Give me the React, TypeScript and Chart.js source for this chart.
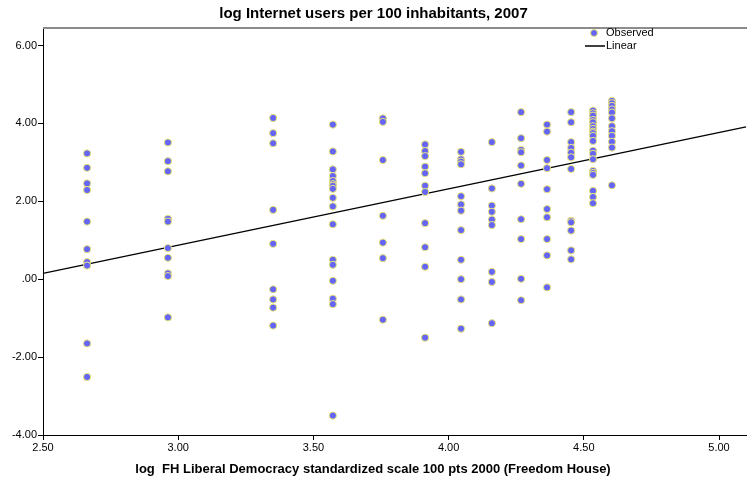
import React, { useEffect, useRef } from "react";
import { Chart, registerables } from "chart.js";

Chart.register(...registerables);

const TITLE = "log Internet users per 100 inhabitants, 2007";
const X_TITLE = "log  FH Liberal Democracy standardized scale 100 pts 2000 (Freedom House)";

const columnX = [2.663, 2.962, 3.351, 3.572, 3.757, 3.913, 4.046, 4.16, 4.268, 4.364, 4.453, 4.534, 4.604];

const col1 = [3.23, 2.86, 2.46, 2.29, 1.48, 0.77, 0.44, 0.35, -1.65, -2.51];
const col2 = [3.51, 3.03, 2.77, 1.55, 1.48, 0.8, 0.55, 0.15, 0.08, -0.98];
const col3 = [4.14, 3.75, 3.49, 1.78, 0.91, -0.26, -0.52, -0.73, -1.19];
const col4 = [3.97, 3.28, 2.82, 2.65, 2.52, 2.44, 2.4, 2.32, 2.09, 1.87, 1.41, 0.5, 0.37, -0.04, -0.5, -0.64, -3.5];
const col5 = [4.13, 4.04, 3.06, 1.63, 0.94, 0.54, -1.04];
const col6 = [3.46, 3.29, 3.16, 2.89, 2.72, 2.4, 2.24, 1.44, 0.82, 0.32, -1.5];
const col7 = [3.27, 3.08, 3.02, 2.95, 2.13, 1.92, 1.76, 1.26, 0.5, 0.0, -0.52, -1.27];
const col8 = [3.52, 2.33, 1.89, 1.73, 1.53, 1.39, 0.19, -0.07, -1.13];
const col9 = [4.29, 3.62, 3.32, 3.26, 2.92, 2.45, 1.54, 1.03, 0.01, -0.54];
const col10 = [3.97, 3.79, 3.06, 2.85, 2.31, 1.8, 1.59, 1.03, 0.61, -0.21];
const col11 = [4.29, 4.03, 3.52, 3.37, 3.25, 3.13, 2.83, 1.5, 1.46, 1.25, 0.74, 0.51];
const col12 = [4.33, 4.26, 4.2, 4.09, 4.03, 3.93, 3.86, 3.79, 3.75, 3.68, 3.55, 3.3, 3.22, 3.08, 2.78, 2.73, 2.68, 2.27, 2.11, 1.95];
const col13 = [4.58, 4.52, 4.45, 4.36, 4.28, 4.13, 3.93, 3.8, 3.68, 3.53, 3.38, 2.41];

const columnY = [col1, col2, col3, col4, col5, col6, col7, col8, col9, col10, col11, col12, col13];

const lineX = [2.5, 5.1];
const lineY = [0.15, 3.91];

const X_MIN = 2.5;
const X_MAX = 5.085;
const xTicks = [2.5, 3.0, 3.5, 4.0, 4.5, 5.0];
const yTicks = [-4, -2, 0, 2, 4, 6];

const FONT = "'Liberation Sans', Arial, sans-serif";
const POINT_FILL = "#6464f5";
const POINT_EDGE = "#eee87a";

const fmtY = (v: number) => {
  const s = Math.abs(v).toFixed(2);
  const t = s.startsWith("0") ? s.slice(1) : s;
  return (v < 0 ? "-" : "") + t;
};

export default function App() {
  const ref = useRef<HTMLCanvasElement | null>(null);
  useEffect(() => {
    const canvas = ref.current;
    if (!canvas) return;
    const observed: { x: number; y: number }[] = [];
    columnX.forEach((x, i) => columnY[i].forEach((y) => observed.push({ x, y })));
    const linePts = lineX.map((x, i) => ({ x, y: lineY[i] }));

    const decor = {
      id: "decor",
      beforeDatasetsDraw(chart: any) {
        const { ctx, chartArea } = chart;
        ctx.save();
        ctx.strokeStyle = "#8c8c8c";
        ctx.lineWidth = 2;
        ctx.beginPath();
        ctx.moveTo(chartArea.left, chartArea.top);
        ctx.lineTo(747, chartArea.top);
        ctx.stroke();
        // continue the x axis line to the canvas edge
        ctx.strokeStyle = "#000";
        ctx.lineWidth = 1;
        ctx.beginPath();
        ctx.moveTo(chartArea.right - 1, chartArea.bottom + 0.5);
        ctx.lineTo(747, chartArea.bottom + 0.5);
        ctx.stroke();
        ctx.restore();
      },
      afterDraw(chart: any) {
        const { ctx } = chart;
        ctx.save();
        ctx.font = `11px ${FONT}`;
        ctx.textBaseline = "middle";
        ctx.textAlign = "left";
        ctx.fillStyle = "#000";
        ctx.beginPath();
        ctx.arc(594, 33, 3.5, 0, Math.PI * 2);
        ctx.fillStyle = POINT_FILL;
        ctx.fill();
        ctx.strokeStyle = POINT_EDGE;
        ctx.lineWidth = 1;
        ctx.stroke();
        ctx.fillStyle = "#000";
        ctx.fillText(chart.data.datasets[0].label, 606, 33);
        ctx.beginPath();
        ctx.moveTo(585, 46);
        ctx.lineTo(605, 46);
        ctx.strokeStyle = "#000";
        ctx.lineWidth = 1.5;
        ctx.stroke();
        ctx.fillText(chart.data.datasets[1].label, 606, 46);
        ctx.font = `bold 13px ${FONT}`;
        ctx.textAlign = "center";
        ctx.fillText(X_TITLE, 373, 469);
        ctx.restore();
      },
    };

    const chart = new Chart(canvas, {
      type: "scatter",
      data: {
        datasets: [
          {
            label: "Observed",
            data: observed,
            backgroundColor: POINT_FILL,
            borderColor: POINT_EDGE,
            borderWidth: 1,
            pointRadius: 3.6,
            order: 1,
          },
          {
            type: "line",
            label: "Linear",
            data: linePts,
            borderColor: "#000",
            borderWidth: 1.4,
            pointRadius: 0,
            fill: false,
            clip: false,
            order: 2,
          } as any,
        ],
      },
      plugins: [decor],
      options: {
        animation: false,
        responsive: false,
        layout: { padding: { left: 0, right: 0, top: 0, bottom: 0 } },
        plugins: {
          legend: { display: false },
          tooltip: { enabled: false },
          title: {
            display: true,
            text: TITLE,
            color: "#000",
            font: { family: FONT, size: 15, weight: "bold" },
            padding: { top: 5, bottom: 5 },
          },
        },
        scales: {
          x: {
            type: "linear",
            min: X_MIN,
            max: X_MAX,
            afterBuildTicks: (s: any) => {
              s.ticks = xTicks.map((v) => ({ value: v }));
            },
            afterFit: (s: any) => {
              s.height = 48;
              s.paddingRight = 0;
              s.paddingLeft = 0;
            },
            grid: { drawOnChartArea: false, color: "#000", tickLength: 5 },
            border: { color: "#000", width: 1 },
            ticks: {
              color: "#000",
              font: { family: FONT, size: 11 },
              padding: 1,
              maxRotation: 0,
              callback: (v: any) => Number(v).toFixed(2),
            },
          },
          y: {
            type: "linear",
            min: -4,
            max: 6.45,
            afterBuildTicks: (s: any) => {
              s.ticks = yTicks.map((v) => ({ value: v }));
            },
            afterFit: (s: any) => {
              s.width = 43;
              s.paddingTop = 0;
              s.paddingBottom = 0;
            },
            grid: { drawOnChartArea: false, color: "#000", tickLength: 5 },
            border: { color: "#000", width: 1 },
            ticks: {
              color: "#000",
              font: { family: FONT, size: 11 },
              padding: 1,
              callback: (v: any) => fmtY(Number(v)),
            },
          },
        },
      },
    });
    return () => chart.destroy();
  }, []);

  return (
    <div style={{ position: "fixed", left: 0, top: 0, width: 747, height: 483, background: "#fff" }}>
      <canvas ref={ref} width={747} height={483} />
    </div>
  );
}
